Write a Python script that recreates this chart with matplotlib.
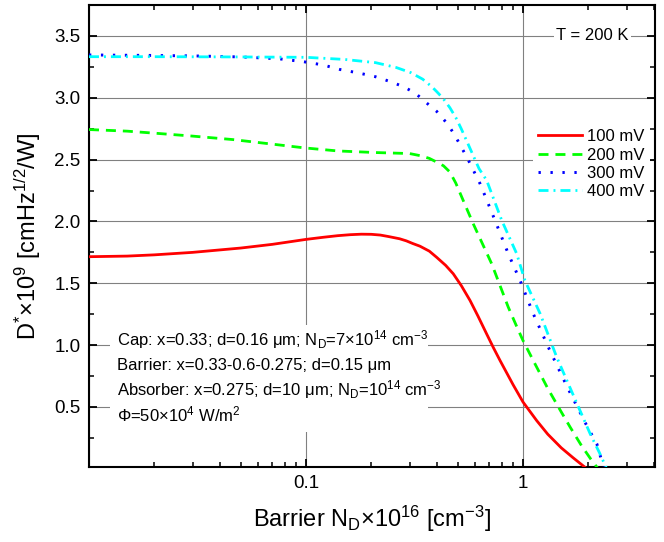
import matplotlib
matplotlib.use("Agg")
import matplotlib.pyplot as plt
from matplotlib.patches import Rectangle
from matplotlib.ticker import LogLocator, MultipleLocator, NullFormatter

plt.rcParams['font.family'] = ['Liberation Sans', 'DejaVu Sans']
plt.rcParams['mathtext.fontset'] = 'custom'
plt.rcParams['mathtext.rm'] = 'Liberation Sans'
plt.rcParams['mathtext.it'] = 'Liberation Sans:italic'
plt.rcParams['mathtext.bf'] = 'Liberation Sans:bold'

# barrier doping, units of 1e16 cm^-3, and detectivity in units of 1e9
nd_100 = [0.01, 0.015, 0.02, 0.03, 0.05, 0.07, 0.1, 0.12, 0.14, 0.16, 0.18, 0.2,
          0.22, 0.24, 0.27, 0.29, 0.31, 0.335, 0.37, 0.4, 0.44, 0.477, 0.52,
          0.57, 0.62, 0.68, 0.73, 0.784, 0.9, 1.0, 1.156, 1.3, 1.5, 1.7, 1.97]
d_100 = [1.715, 1.72, 1.73, 1.75, 1.785, 1.815, 1.855, 1.872, 1.885, 1.893, 1.897, 1.896,
         1.89, 1.878, 1.86, 1.843, 1.822, 1.80, 1.76, 1.71, 1.645, 1.577, 1.48,
         1.361, 1.235, 1.09, 0.98, 0.875, 0.68, 0.54, 0.39, 0.28, 0.17, 0.09, 0.0]

nd_200 = [0.01, 0.015, 0.021, 0.03, 0.046, 0.07, 0.098, 0.14, 0.21, 0.3, 0.34,
          0.37, 0.40, 0.43, 0.46, 0.49, 0.53, 0.59, 0.65, 0.717, 0.78, 0.855,
          0.93, 1.0, 1.115, 1.3, 1.5, 1.65, 1.86, 2.05, 2.22]
d_200 = [2.743, 2.73, 2.711, 2.69, 2.662, 2.625, 2.595, 2.57, 2.557, 2.549, 2.53,
         2.51, 2.48, 2.45, 2.40, 2.31, 2.17, 1.98, 1.82, 1.658, 1.49, 1.307,
         1.16, 1.037, 0.875, 0.65, 0.46, 0.336, 0.187, 0.08, 0.0]

nd_300 = [0.01, 0.02, 0.031, 0.05, 0.075, 0.097, 0.12, 0.142, 0.175, 0.209,
          0.245, 0.282, 0.32, 0.354, 0.4, 0.447, 0.48, 0.519, 0.56, 0.634, 0.743,
          0.855, 0.969, 1.115, 1.33, 1.6, 1.93, 2.19, 2.36]
d_300 = [3.346, 3.342, 3.338, 3.33, 3.315, 3.292, 3.265, 3.23, 3.2, 3.17,
         3.13, 3.089, 3.035, 2.968, 2.89, 2.792, 2.71, 2.603, 2.495, 2.305, 2.008,
         1.739, 1.523, 1.253, 0.956, 0.66, 0.376, 0.2, 0.0]

nd_400 = [0.01, 0.02, 0.05, 0.1, 0.15, 0.209, 0.26, 0.304, 0.345, 0.38, 0.40,
          0.428, 0.46, 0.49, 0.519, 0.57, 0.627, 0.68, 0.798, 0.935, 1.02, 1.2,
          1.43, 1.7, 2.04, 2.25, 2.43]
d_400 = [3.332, 3.332, 3.33, 3.327, 3.31, 3.284, 3.245, 3.203, 3.15, 3.089, 3.05,
         2.995, 2.92, 2.84, 2.75, 2.59, 2.427, 2.332, 2.008, 1.739, 1.523, 1.253,
         0.902, 0.6, 0.282, 0.13, 0.0]

labels = ['100 mV', '200 mV', '300 mV', '400 mV']

notes = [
    r'Cap: x=0.33; d=0.16 μm; N$_\mathrm{D}$=7×10$^{14}$ cm$^{\mathrm{-3}}$',
    r'Barrier: x=0.33-0.6-0.275; d=0.15 μm',
    r'Absorber: x=0.275; d=10 μm; N$_\mathrm{D}$=10$^{14}$ cm$^{\mathrm{-3}}$',
    r'Φ=50×10$^{4}$ W/m$^{2}$',
]

fig = plt.figure(figsize=(6.64, 5.42), dpi=100)
ax = fig.add_axes([0.134, 0.1384, 0.8526, 0.8524])

ax.plot(nd_100, d_100, color='#ff0000', lw=2.0, label=labels[0], zorder=4)
ax.plot(nd_200, d_200, color='#00ff00', lw=2.0, dashes=(3.6, 2.5), label=labels[1], zorder=4)
ax.plot(nd_300, d_300, color='#0000ff', lw=2.1, dashes=(0.8, 3.3), label=labels[2], zorder=4)
ax.plot(nd_400, d_400, color='#00ffff', lw=2.0, dashes=(3.6, 1.8, 0.7, 1.8), label=labels[3], zorder=4)

ax.set_xscale('log')
ax.set_xlim(0.01, 4.06)
ax.set_ylim(0.015, 3.75)

ax.set_xticks([0.01, 0.1, 1])
ax.set_xticklabels(['', '0.1', '1'])
ax.xaxis.set_minor_locator(LogLocator(base=10, subs=range(2, 10)))
ax.xaxis.set_minor_formatter(NullFormatter())
ax.set_yticks([0.5, 1.0, 1.5, 2.0, 2.5, 3.0, 3.5])
ax.yaxis.set_minor_locator(MultipleLocator(0.25))

ax.tick_params(which='both', direction='in', top=True, right=True, labelsize=13.5)
ax.tick_params(which='major', length=6, width=1.3, pad=6)
ax.tick_params(which='minor', length=3.5, width=1.1)
for s in ax.spines.values():
    s.set_linewidth(1.5)

ax.grid(True, which='major', color='#808080', lw=0.8)
ax.set_axisbelow(True)

ax.set_xlabel(r'Barrier N$_\mathrm{D}$×10$^{16}$ [cm$^{\mathrm{-3}}$]', fontsize=17, labelpad=8)
ax.set_ylabel(r'D$^{*}$×10$^{9}$ [cmHz$^{1/2}$/W]', fontsize=17, labelpad=8)

leg = ax.legend(loc='upper left', bbox_to_anchor=(0.77, 0.76), fontsize=12,
                handlelength=2.65, handletextpad=0.3, labelspacing=0.2,
                frameon=True, fancybox=False, framealpha=1, borderpad=0.3)
leg.get_frame().set_edgecolor('none')
leg.get_frame().set_facecolor('white')

ax.text(0.889, 0.933, 'T = 200 K', transform=ax.transAxes, fontsize=12,
        ha='center', va='center', zorder=5,
        bbox=dict(facecolor='white', edgecolor='none', pad=1.5))

# white panel behind the structure parameters
ax.add_patch(Rectangle((0.037, 0.076), 0.562, 0.231, transform=ax.transAxes,
                       facecolor='white', edgecolor='none', zorder=2))
for i, line in enumerate(notes):
    ax.text(0.049, 0.264 - 0.055 * i, line, transform=ax.transAxes, fontsize=12,
            ha='left', va='baseline', zorder=3)

fig.savefig('out.png', dpi=100)
